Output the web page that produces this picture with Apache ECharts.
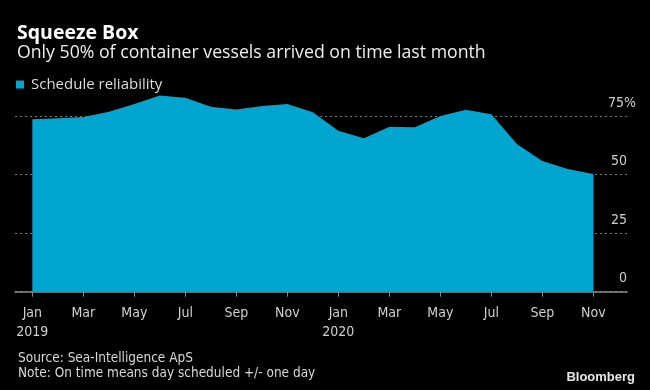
<!DOCTYPE html>
<html>
<head>
<meta charset="utf-8">
<script src="https://cdn.jsdelivr.net/npm/echarts@6/dist/echarts.min.js"></script>
<style>
html,body{margin:0;padding:0;background:#000;}
#chart{width:650px;height:390px;}
</style>
</head>
<body>
<div id="chart"></div>
<script>
// Data
const months = ['Jan','Feb','Mar','Apr','May','Jun','Jul','Aug','Sep','Oct','Nov','Dec',
                'Jan','Feb','Mar','Apr','May','Jun','Jul','Aug','Sep','Oct','Nov'];
const years = ['2019','2019','2019','2019','2019','2019','2019','2019','2019','2019','2019','2019',
               '2020','2020','2020','2020','2020','2020','2020','2020','2020','2020','2020'];
const reliability = [73.6, 74.0, 74.6, 76.8, 80.1, 83.7, 82.8, 79.0, 77.8, 79.3, 80.1, 76.6,
                     68.7, 65.5, 70.4, 70.2, 75.0, 77.7, 75.7, 63.0, 55.8, 52.4, 50.2];
const yTicks = [0, 25, 50, 75];
const xTickIdx = [0, 2, 4, 6, 8, 10, 12, 14, 16, 18, 20, 22];

const condensed = "'Liberation Sans Narrow','DejaVu Sans Condensed','Roboto Condensed',sans-serif";
const sans = "'Open Sans','Noto Sans',sans-serif";

const chart = echarts.init(document.getElementById('chart'), null, {renderer: 'canvas'});
chart.setOption({
  backgroundColor: '#000',
  animation: false,
  title: [
    {text: 'Squeeze Box', left: 12, top: 18,
     textStyle: {color: '#fff', fontSize: 19.5, fontWeight: 'bold', fontFamily: sans}},
    {text: 'Only 50% of container vessels arrived on time last month', left: 12, top: 39,
     textStyle: {color: '#eee', fontSize: 17.7, fontWeight: 'normal', fontFamily: sans}},
    {text: 'Source: Sea-Intelligence ApS', left: 13, top: 346,
     textStyle: {color: '#d8d8d8', fontSize: 13.5, fontWeight: 'normal', fontFamily: condensed}},
    {text: 'Note: On time means day scheduled +/- one day', left: 13, top: 361,
     textStyle: {color: '#d8d8d8', fontSize: 13.5, fontWeight: 'normal', fontFamily: condensed}},
    {text: 'Bloomberg', right: 10, top: 366,
     textStyle: {color: '#e8e8e8', fontSize: 13, fontWeight: 'bold', fontFamily: "'Liberation Sans','Arial',sans-serif"}}
  ],
  legend: {
    left: 11, top: 72, icon: 'rect', itemWidth: 8, itemHeight: 8, itemGap: 6,
    textStyle: {color: '#ddd', fontSize: 15, fontFamily: sans, padding: [0, 0, 0, 2]},
    data: ['Schedule reliability']
  },
  grid: {left: 15, right: 23, top: 116, bottom: 98.3, containLabel: false},
  xAxis: {
    type: 'value', min: -0.68, max: 23.32,
    axisLine: {show: true, lineStyle: {color: '#8a8a8a', width: 1.5}},
    axisTick: {show: true, customValues: xTickIdx, length: 5, lineStyle: {color: '#8a8a8a'}},
    splitLine: {show: false},
    axisLabel: {
      customValues: xTickIdx, margin: 12, color: '#d0d0d0', fontSize: 14, lineHeight: 19,
      fontFamily: condensed,
      formatter: function (v) {
        const i = Math.round(v);
        return months[i] === 'Jan' ? months[i] + '\n' + years[i] : months[i];
      }
    }
  },
  yAxis: {
    type: 'value', position: 'right', min: 0, max: 75, interval: 25,
    axisLine: {show: false}, axisTick: {show: false},
    splitLine: {show: true, lineStyle: {color: '#7a7a7a', type: [2, 3], width: 1}},
    axisLabel: {
      inside: true, margin: -9, color: '#d0d0d0', fontSize: 14, fontFamily: condensed,
      verticalAlign: 'bottom', padding: [0, 0, 6, 0],
      formatter: function (v) { return v === 75 ? '75%' : '{a|' + v + '}'; },
      rich: {a: {color: '#d0d0d0', fontSize: 14, fontFamily: condensed, padding: [0, 9, 0, 0]}}
    }
  },
  series: [{
    name: 'Schedule reliability',
    type: 'line',
    clip: false,
    symbol: 'none',
    color: '#00a5d0',
    lineStyle: {width: 0},
    areaStyle: {color: '#00a5d0', opacity: 1},
    data: reliability.map((v, i) => [i, v])
  }]
});
</script>
</body>
</html>
